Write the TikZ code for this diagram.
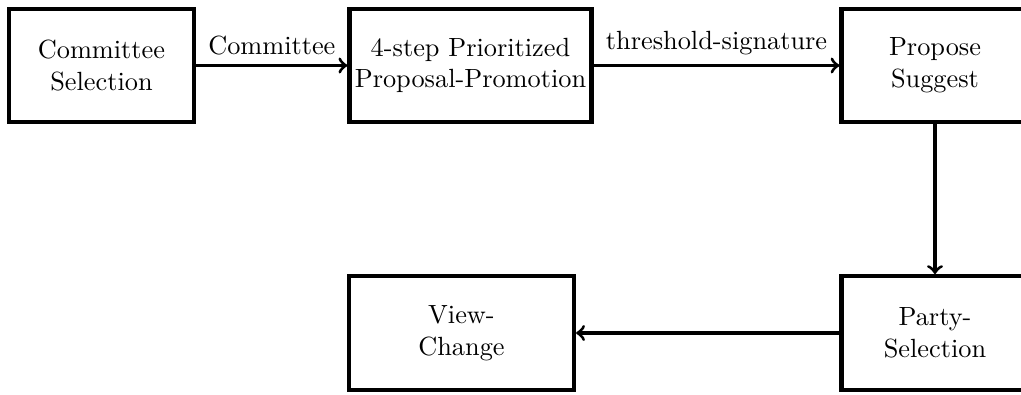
\documentclass[tikz,border=0pt]{standalone}
\usetikzlibrary{positioning}
\begin{document}
\begin{tikzpicture}[x=0.38pt, y=-0.38pt,
    block/.style={draw, line width=1.6pt, align=center, minimum height=43.2pt, inner sep=2pt},
    flow/.style={->, line width=1.2pt}]
		%%%%% START %%%%%
		\useasboundingbox (0,0) rectangle (1021,395);
		
		\node[block, minimum width=70.5pt] (select) at (101.5,65.5) {Committee\\Selection};
		\node[block, minimum width=92pt] (promote) at (470.5,65.5) {4-step Prioritized\\Proposal-Promotion};
		\node[block, minimum width=71pt] (propose) at (935,65.5) {Propose\\Suggest};
		\node[block, minimum width=71pt] (party) at (935,333) {Party-\\Selection};
		\node[block, minimum width=85.5pt] (view) at (461.5,333) {View-\\Change};
		
		\draw[flow] (select) -- node[above] {Committee} (promote);
		\draw[flow] (promote) -- node[above] {threshold-signature} (propose);
		\draw[flow] (propose) -- (party);
		\draw[flow] (party) -- (view);
		
		%%%%% END %%%%%
	\end{tikzpicture}
\end{document}
